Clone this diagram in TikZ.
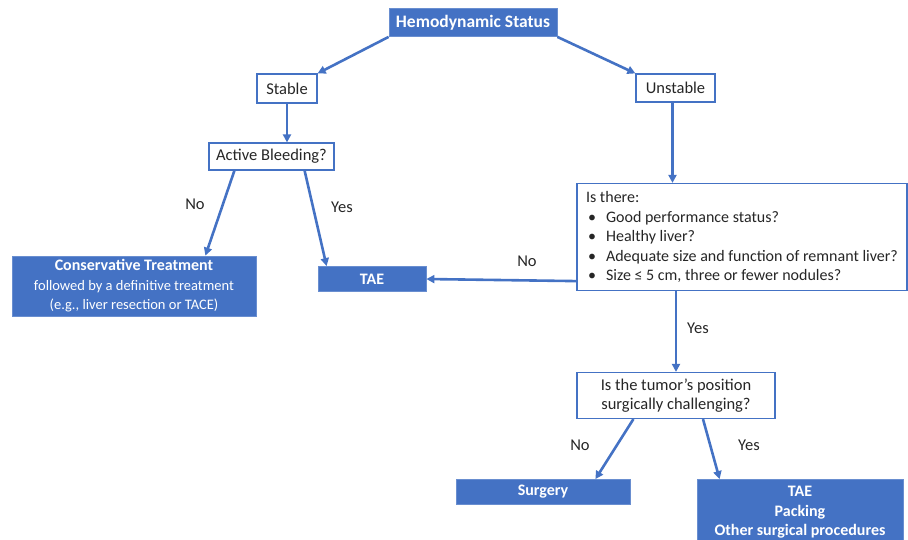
\documentclass[tikz,border=0pt]{standalone}
\usepackage{fontspec}
\setmainfont{Carlito}
\usetikzlibrary{arrows.meta}
\definecolor{flowblue}{HTML}{4472C4}
\definecolor{inktext}{HTML}{262626}
\tikzset{
	boxfill/.style={fill=flowblue, draw=flowblue!80!white, line width=0.8pt, text=white, font=\fontsize{16}{19.5}\selectfont\bfseries, align=center, inner sep=0pt},
	boxline/.style={fill=white, draw=flowblue, line width=1.2pt, text=inktext, font=\fontsize{16.5}{19.5}\selectfont, align=center, inner sep=0pt},
	flow/.style={draw=flowblue, line width=2.6pt, -{Triangle[length=8pt,width=8pt]}},
	answer/.style={text=inktext, font=\fontsize{16.5}{19.5}\selectfont, inner sep=0pt}
}
\newcommand{\bul}{\hspace*{2pt}\makebox[18pt][l]{\textbullet}}
\newcommand{\smalltext}{\mdseries\fontsize{14.5}{17.5}\selectfont}
\begin{document}
\begin{tikzpicture}[x=1pt,y=-1pt]
\useasboundingbox (0,0) rectangle (908,539);
\clip (0,0) rectangle (908,539);

% boxes
\node[boxfill, minimum width=168pt, minimum height=28pt, font=\fontsize{17.5}{20}\selectfont\bfseries] (hemo) at (473,22.5) {Hemodynamic Status};
\node[boxline, minimum width=60pt, minimum height=29pt] (stable) at (287,88.5) {Stable};
\node[boxline, minimum width=79pt, minimum height=28pt] (unstable) at (675.5,88) {Unstable};
\node[boxline, minimum width=125pt, minimum height=27pt] (bleed) at (271.5,156.5) {Active Bleeding?};
\node[boxfill, minimum width=244pt, minimum height=60pt] (conserv) at (134,286) {Conservative Treatment\\
	\smalltext followed by a definitive treatment\\ \smalltext (e.g., liver resection or TACE)};
\node[boxfill, minimum width=108pt, minimum height=25pt] (taeL) at (372,279) {TAE};
\node[boxline, minimum width=330pt, minimum height=107pt, align=left, font=\fontsize{16}{19.5}\selectfont] (crit) at (742,237) {Is there:\\
	\bul Good performance status?\\
	\bul Healthy liver?\\
	\bul Adequate size and function of remnant liver?\\
	\bul Size ≤ 5 cm, three or fewer nodules?};
\node[boxline, minimum width=198pt, minimum height=46pt] (pos) at (676,395.5) {Is the tumor’s position\\ surgically challenging?};
\node[boxfill, minimum width=174pt, minimum height=25pt] (surgery) at (543,492) {Surgery};
\node[boxfill, minimum width=206pt, minimum height=66pt] (taeR) at (800,512.5) {TAE\\ Packing\\ Other surgical procedures};

% connectors
\draw[flow] (hemo.south west) -- (stable.north east);
\draw[flow] (hemo.south east) -- (unstable.north west);
\draw[flow] (stable.south) -- (stable.south |- bleed.north);
\draw[flow] ([xshift=-3pt]unstable.south) -- ([xshift=-3pt]unstable.south |- crit.north);
\draw[flow] ([xshift=26pt]bleed.south west) -- ([xshift=-51pt]conserv.north east);
\draw[flow] ([xshift=-30pt]bleed.south east) -- ([xshift=9pt]taeL.north west);
\draw[flow] ([yshift=10pt]crit.south west) -- (taeL.east);
\draw[flow] (crit.south -| pos.north) -- (pos.north);
\draw[flow] ([xshift=57pt]pos.south west) -- ([xshift=-35pt]surgery.north east);
\draw[flow] ([xshift=27pt]pos.south) -- ([xshift=23pt]taeR.north west);

% answers
\node[answer] (noA) at (195,204) {No};
\node[answer] (yesA) at (342,207) {Yes};
\node[answer] (noB) at (527,261) {No};
\node[answer] (yesB) at (698,328) {Yes};
\node[answer] (noC) at (580,445) {No};
\node[answer] (yesC) at (749,445) {Yes};
\end{tikzpicture}
\end{document}
